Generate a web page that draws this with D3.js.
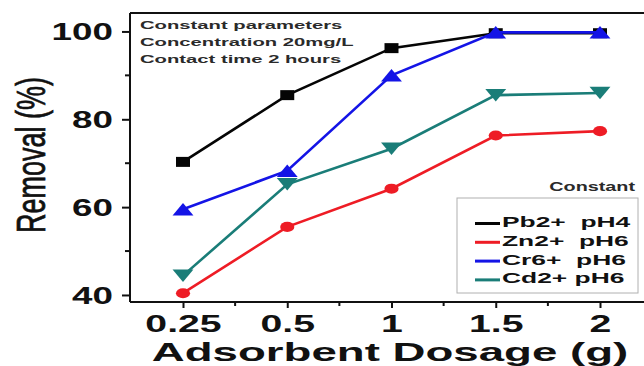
<!DOCTYPE html>
<html>
<head>
<meta charset="utf-8">
<script src="https://cdn.jsdelivr.net/npm/d3@7"></script>
<style>
  html, body { margin: 0; padding: 0; background: #fff; }
  text { font-family: "Liberation Sans", Arial, sans-serif; }
</style>
</head>
<body>
<svg id="chart" width="644" height="366"></svg>
<script>
// Dosage levels (g) on the x axis
const dosages = ["0.25", "0.5", "1", "1.5", "2"];

// Removal (%) per metal ion
const pbVals = [70.3, 85.5, 96.2, 99.6, 99.6];
const znVals = [40.4, 55.5, 64.2, 76.3, 77.3];
const crVals = [59.5, 68.3, 90, 99.8, 99.8];
const cdVals = [44.4, 65.2, 73.3, 85.5, 86];

const yTicks = [40, 60, 80, 100];
const yMinor = [50, 70, 90];

const seriesNames = ["Pb2+  pH4", "Zn2+  pH6", "Cr6+  pH6", "Cd2+ pH6"];
const seriesColors = ["#050505", "#ee1c25", "#1414e6", "#1a7d78"];
const seriesValues = [pbVals, znVals, crVals, cdVals];

const notes = ["Constant parameters", "Concentration 20mg/L", "Contact time 2 hours"];

const svg = d3.select("#chart");
const pl = 130, pt = 13, pr = 650, pbot = 302;
const SX = 1.6; // horizontal stretch of the figure's text

const x = d3.scalePoint().domain(dosages).range([183, 600]);
const y = d3.scaleLinear().domain([38.4, 104.2]).range([pbot, pt]);

// text drawn with a horizontal stretch, anchored at (tx, ty)
function stext(parent, tx, ty, str, opts) {
  const o = Object.assign({ size: 12, weight: "bold", anchor: "start", sx: SX, fill: "#111", rotate: 0 }, opts || {});
  return parent.append("text")
    .attr("transform", `translate(${tx},${ty}) scale(${o.sx},1)` + (o.rotate ? ` rotate(${o.rotate})` : ""))
    .attr("font-size", o.size).attr("font-weight", o.weight)
    .attr("text-anchor", o.anchor).attr("fill", o.fill)
    .attr("xml:space", "preserve")
    .text(str);
}

// top frame line
svg.append("line").attr("x1", pl).attr("x2", pr).attr("y1", pt).attr("y2", pt)
  .attr("stroke", "#111").attr("stroke-width", 2);

// y axis with outward ticks
const yAxis = svg.append("g").attr("transform", `translate(${pl},0)`)
  .call(d3.axisLeft(y).tickValues(yTicks).tickSize(8).tickFormat(""));
yAxis.select(".domain").attr("d", `M0,${pt}V${pbot}`).attr("stroke", "#111").attr("stroke-width", 2);
yAxis.selectAll(".tick line").attr("stroke", "#111").attr("stroke-width", 2);
yAxis.selectAll(".tick").each(function (d) {
  stext(d3.select(this), -17, 8.5, String(d), { size: 23, anchor: "end" });
});
svg.append("g").selectAll("line").data(yMinor).join("line")
  .attr("x1", pl - 5).attr("x2", pl).attr("y1", d => y(d)).attr("y2", d => y(d))
  .attr("stroke", "#111").attr("stroke-width", 2);

// x axis with outward ticks
const xAxis = svg.append("g").attr("transform", `translate(0,${pbot})`)
  .call(d3.axisBottom(x).tickSize(6).tickFormat(""));
xAxis.select(".domain").attr("d", `M${pl},0H${pr}`).attr("stroke", "#111").attr("stroke-width", 2);
xAxis.selectAll(".tick line").attr("stroke", "#111").attr("stroke-width", 2);
xAxis.selectAll(".tick").each(function (d) {
  stext(d3.select(this), 0, 29.5, d, { size: 23.5, anchor: "middle", sx: 1.67 });
});
const step = x.step();
svg.append("g").selectAll("line").data(dosages.slice(0, -1)).join("line")
  .attr("x1", d => x(d) + step / 2).attr("x2", d => x(d) + step / 2)
  .attr("y1", pbot).attr("y2", pbot + 4)
  .attr("stroke", "#111").attr("stroke-width", 2);

// axis titles
stext(svg, 45, 155, "Removal (%)", { size: 27, weight: "normal", anchor: "middle", sx: 1.5, rotate: -90 })
  .attr("stroke", "#111").attr("stroke-width", 0.5);
stext(svg, 390, 360.5, "Adsorbent Dosage (g)", { size: 26, anchor: "middle", sx: 1.755 });

// series lines and markers
const line = d3.line().x((d, i) => x(dosages[i])).y(d => y(d));
const downTriangle = {
  draw(ctx, size) {
    const s = Math.sqrt(size / (Math.sqrt(3) / 4));
    const h = s * Math.sqrt(3) / 2;
    ctx.moveTo(-s / 2, -h / 2);
    ctx.lineTo(s / 2, -h / 2);
    ctx.lineTo(0, h / 2);
    ctx.closePath();
  }
};
const upTriangle = {
  draw(ctx, size) {
    const s = Math.sqrt(size / (Math.sqrt(3) / 4));
    const h = s * Math.sqrt(3) / 2;
    ctx.moveTo(0, -h / 2);
    ctx.lineTo(s / 2, h / 2);
    ctx.lineTo(-s / 2, h / 2);
    ctx.closePath();
  }
};
const markerTypes = [d3.symbolSquare, d3.symbolCircle, upTriangle, downTriangle];
const markerSizes = [100, 80, 90, 90];

seriesValues.forEach((vals, si) => {
  const g = svg.append("g");
  g.append("path").datum(vals).attr("d", line).attr("fill", "none")
    .attr("stroke", seriesColors[si]).attr("stroke-width", 2.6);
  g.selectAll("path.m").data(vals).join("path").attr("class", "m")
    .attr("transform", (d, i) => `translate(${x(dosages[i])},${y(d)}) scale(${si >= 2 ? 1.45 : 1.4},1)`)
    .attr("d", d3.symbol().type(markerTypes[si]).size(markerSizes[si]))
    .attr("fill", seriesColors[si]);
});

// notes block
notes.forEach((t, i) => stext(svg, 140, 29 + i * 17, t, { size: 11.5, fill: "#2a2a2a", sx: 1.76 }));

// legend
stext(svg, 635, 191, "Constant", { size: 12, fill: "#2a2a2a", anchor: "end", sx: 1.65 });
svg.append("rect").attr("x", 457).attr("y", 198).attr("width", 181).attr("height", 95)
  .attr("fill", "#fff").attr("stroke", "#b0b0b0").attr("stroke-width", 1);
const lg = svg.append("g").selectAll("g").data(seriesNames).join("g")
  .attr("transform", (d, i) => `translate(475,${227 + i * 18.8})`);
lg.append("line").attr("x1", 0).attr("x2", 25).attr("y1", -3.5).attr("y2", -3.5)
  .attr("stroke", (d, i) => seriesColors[i]).attr("stroke-width", 3);
lg.each(function (d) {
  stext(d3.select(this), 27, 0, d, { size: 14.5, sx: 1.82 });
});
</script>
</body>
</html>
